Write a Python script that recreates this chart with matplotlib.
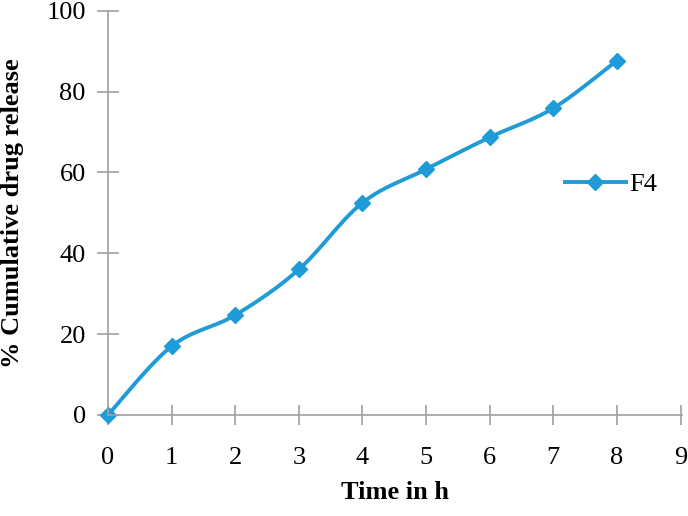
import numpy as np
import matplotlib.pyplot as plt

plt.rcParams['font.family'] = ['Liberation Serif', 'DejaVu Serif']

# data
time_h = np.array([0, 1, 2, 3, 4, 5, 6, 7, 8])
release_f4 = np.array([0, 17.0, 24.7, 36.0, 52.5, 60.8, 68.7, 75.9, 87.7])
x_ticks = list(range(0, 10))
y_ticks = list(range(0, 101, 20))


def smooth(x, y, n=30):
    # Catmull-Rom style bezier, similar to Excel "smoothed line"
    px = np.concatenate([[x[0]], x, [x[-1]]])
    py = np.concatenate([[y[0]], y, [y[-1]]])
    xs, ys = [], []
    t = np.linspace(0, 1, n)
    for i in range(1, len(px) - 2):
        p0 = np.array([px[i], py[i]])
        p3 = np.array([px[i + 1], py[i + 1]])
        p1 = p0 + (np.array([px[i + 1], py[i + 1]]) - np.array([px[i - 1], py[i - 1]])) / 6
        p2 = p3 - (np.array([px[i + 2], py[i + 2]]) - np.array([px[i], py[i]])) / 6
        b = ((1 - t) ** 3)[:, None] * p0 + (3 * (1 - t) ** 2 * t)[:, None] * p1 \
            + (3 * (1 - t) * t ** 2)[:, None] * p2 + (t ** 3)[:, None] * p3
        xs.extend(b[:, 0])
        ys.extend(b[:, 1])
    return np.array(xs), np.array(ys)


color = '#1f9bd7'
fig = plt.figure(figsize=(6.88, 5.16), dpi=100)
ax = fig.add_axes([0.157, 0.196, 0.834, 0.783])

sx, sy = smooth(time_h, release_f4)
ax.plot(sx, sy, color=color, lw=2.8, solid_capstyle='round')
ax.plot(time_h, release_f4, linestyle='none', marker='D', ms=8, color=color)
ax.plot([], [], color=color, lw=2.8, marker='D', ms=8, label='F4')

ax.set_xlim(0, 9.02)
ax.set_ylim(0, 100)
ax.set_xticks(x_ticks)
ax.set_yticks(y_ticks)
for s in ['top', 'right']:
    ax.spines[s].set_visible(False)
for s in ['left', 'bottom']:
    ax.spines[s].set_color('#a0a0a0')
    ax.spines[s].set_linewidth(1.2)
ax.spines['left'].set_bounds(0, 100)
ax.tick_params(axis='y', direction='inout', length=16, width=1.2, color='#a0a0a0',
               labelsize=19, pad=8)
ax.tick_params(axis='x', direction='inout', length=14, width=1.2, color='#a0a0a0',
               labelsize=19, pad=16)
for line in ax.lines:
    line.set_clip_on(False)

ax.set_xlabel('Time in h', fontsize=19, fontweight='bold', labelpad=9)
ax.set_ylabel('% Cumulative drug release', fontsize=19, fontweight='bold', labelpad=16)

ax.legend(loc='center left', bbox_to_anchor=(0.755, 0.57), frameon=False, fontsize=19,
          handlelength=2.3, handletextpad=0.15)

fig.savefig('out.png', dpi=100)
